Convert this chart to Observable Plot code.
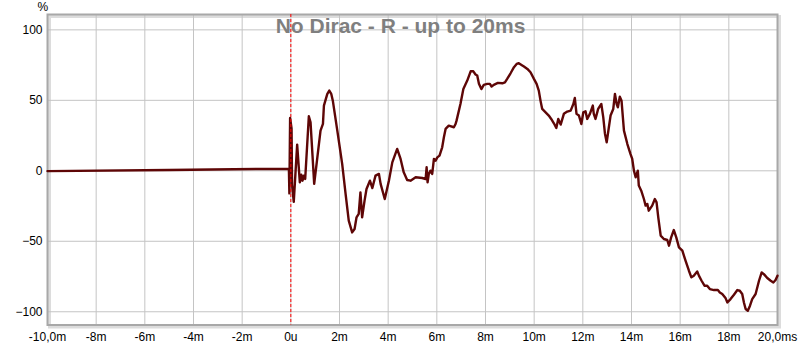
<!DOCTYPE html>
<html>
<head>
<meta charset="utf-8">
<script src="https://cdn.jsdelivr.net/npm/d3@7"></script>
<script src="https://cdn.jsdelivr.net/npm/@observablehq/plot@0.6"></script>
<style>
  html, body { margin: 0; padding: 0; background: #fff; }
  #chart svg { display: block; }
</style>
</head>
<body>
<div id="chart"></div>
<script>
const title = "No Dirac - R - up to 20ms";
const yUnit = "%";
const xTicks = [-10, -8, -6, -4, -2, 0, 2, 4, 6, 8, 10, 12, 14, 16, 18, 20];
const xTickLabels = ["-10,0m", "-8m", "-6m", "-4m", "-2m", "0u", "2m", "4m", "6m", "8m", "10m", "12m", "14m", "16m", "18m", "20,0ms"];
const yTicks = [-100, -50, 0, 50, 100];

// time in ms
const timeMs = [
  -10, -5, -0.08, -0.06, -0.03, 0.03, 0.05, 0.12, 0.26, 0.37, 0.43, 0.48, 0.53, 0.59, 0.74, 0.81, 0.96,
  1.09, 1.22, 1.32, 1.36, 1.44, 1.50, 1.58, 1.66, 1.73, 1.91, 2.11, 2.25, 2.38, 2.52, 2.62, 2.70, 2.79,
  2.86, 2.93, 3.03, 3.11, 3.25, 3.35, 3.48, 3.62, 3.69, 3.86, 4.03, 4.17, 4.37, 4.51, 4.64, 4.78, 4.92,
  5.13, 5.40, 5.54, 5.58, 5.62, 5.67, 5.74, 5.81, 5.88, 5.95, 6.02, 6.11, 6.22, 6.29, 6.36, 6.49, 6.70,
  6.77, 6.81, 6.97, 7.09, 7.25, 7.39, 7.50, 7.59, 7.66, 7.73, 7.83, 7.93, 8.07, 8.18, 8.25, 8.34, 8.51,
  8.69, 8.80, 8.89, 9.03, 9.17, 9.28, 9.37, 9.48, 9.58, 9.72, 9.85, 9.99, 10.10, 10.19, 10.26, 10.33,
  10.47, 10.60, 10.70, 10.81, 10.91, 10.99, 11.09, 11.22, 11.36, 11.50, 11.61, 11.67, 11.74, 11.84,
  11.94, 12.02, 12.11, 12.18, 12.29, 12.41, 12.45, 12.52, 12.63, 12.76, 12.84, 12.91, 12.98, 13.07,
  13.14, 13.25, 13.32, 13.39, 13.44, 13.52, 13.59, 13.69, 13.83, 13.96, 14.03, 14.10, 14.17, 14.26,
  14.30, 14.40, 14.51, 14.58, 14.65, 14.71, 14.85, 14.96, 15.03, 15.10, 15.20, 15.33, 15.47, 15.54,
  15.63, 15.74, 15.84, 15.95, 16.09, 16.22, 16.36, 16.46, 16.56, 16.70, 16.77, 16.88, 17.00, 17.11,
  17.22, 17.39, 17.55, 17.63, 17.73, 17.87, 17.94, 18.07, 18.21, 18.35, 18.45, 18.55, 18.62, 18.69,
  18.78, 18.87, 18.96, 19.10, 19.24, 19.35, 19.44, 19.58, 19.72, 19.83, 19.92, 20.0
];
// step response in %
const stepPct = [
  -0.2, 0.6, 1.5, -16, 37.5, 30, -10, -22, 18.6, -8.2, -2.7, -7, -3.5, -5.8, 38.7, 34.4, -9.3,
  9.5, 28.5, 33.3, 46.3, 51, 54.6, 56.9, 54.6, 49.3, 28.5, 4.9, -16.4, -35.4, -43.7, -41.3, -33, -30.6,
  -15.3, -33, -21.2, -12.9, -7, -12.2, -3.4, -2.2, -9.3, -20, -7, 6, 15.5, 8.4, -1.1, -6.5, -7,
  -4.6, -5.1, -5.8, 2.5, -8.2, -2.2, 0.1, -2.2, 8.4, 7.2, 9.5, 10.8, 16.7, 23.8, 29.7, 32, 30.9,
  33.2, 35.6, 47.4, 58, 64, 70.6, 70.6, 68.3, 67.6, 61.7, 58, 61, 61.7, 61.7, 59.8, 61, 62.4,
  62.1, 62.8, 65.2, 69.2, 73.5, 75.8, 76.3, 75.1, 74, 72.3, 69.9, 65.2, 61.7, 56.9, 49.8, 43.9,
  41.5, 39.2, 36.8, 33.7, 30.4, 36.8, 32.8, 40.4, 42, 42.7, 47.4, 51.7, 40.4, 39.2,
  33.2, 41.5, 42.2, 36.8, 40.4, 46.3, 40.4, 36.8, 43.9, 47.4, 37.9, 26.2, 20.2, 30.9,
  39.2, 43.9, 54.5, 47.4, 45, 52.6, 49.8, 28.5, 19, 11.9, 8.4, 0.1, -4.6, 0.1,
  -10.5, -14.1, -20, -24.7, -23.5, -28.3, -24.7, -20, -22.4, -33, -46, -48.4, -49.1, -53.1,
  -47.2, -42, -47.2, -54.3, -56.7, -63.8, -70.9, -75.6, -74.4, -71.4, -74.4, -78, -81.5, -81.5,
  -83.9, -84.6, -84.6, -86.3, -87.4, -90.5, -93.4, -91, -87.9, -84.6, -85.1, -87.4, -93.4, -98.1,
  -99.3, -95.7, -91, -87.4, -78, -72.1, -73.3, -76.1, -78, -79.2, -77.5, -74.4
];

const data = timeMs.map((t, i) => ({t, v: stepPct[i]}));
const labelOf = new Map(xTicks.map((t, i) => [t, xTickLabels[i]]));

const chart = Plot.plot({
  width: 800,
  height: 347,
  marginLeft: 47,
  marginRight: 23,
  marginTop: 14,
  marginBottom: 22.5,
  style: {fontFamily: "'Liberation Sans', Arial, sans-serif", fontSize: "12px", color: "#000", background: "#fff"},
  x: {domain: [-10, 20], ticks: xTicks, tickFormat: d => labelOf.get(d), tickSize: 0, tickPadding: 7, label: null},
  y: {domain: [-109.4, 110.9], ticks: yTicks, tickSize: 0, tickPadding: 5, label: null},
  marks: [
    Plot.frame({stroke: "#dcdcdc", strokeWidth: 3, dx: 2, dy: 2}),
    Plot.gridX(xTicks, {stroke: "#c4c4c4", strokeOpacity: 1, strokeWidth: 1}),
    Plot.gridY(yTicks, {stroke: "#c4c4c4", strokeOpacity: 1, strokeWidth: 1}),
    Plot.frame({stroke: "#a8a8a8", strokeWidth: 2}),
    Plot.axisX(xTicks, {tickSize: 0, tickPadding: 7, tickFormat: d => labelOf.get(d), fill: "#000"}),
    Plot.axisY(yTicks, {tickSize: 0, tickPadding: 5, fill: "#000"}),
    Plot.text([title], {frameAnchor: "top", dx: -12, dy: 12, lineAnchor: "middle", fill: "#7f7f7f", fontWeight: "bold", fontSize: 21}),
    Plot.text([yUnit], {frameAnchor: "top-left", dx: -10, dy: -7, lineAnchor: "middle", fill: "#000", fontSize: 12}),
    Plot.line(data, {x: "t", y: "v", stroke: "#5e0606", strokeWidth: 2.4, strokeLinejoin: "round"}),
    Plot.ruleX([0], {stroke: "#ff0000", strokeWidth: 1, strokeDasharray: "3,2"})
  ]
});
document.getElementById("chart").appendChild(chart);
</script>
</body>
</html>
